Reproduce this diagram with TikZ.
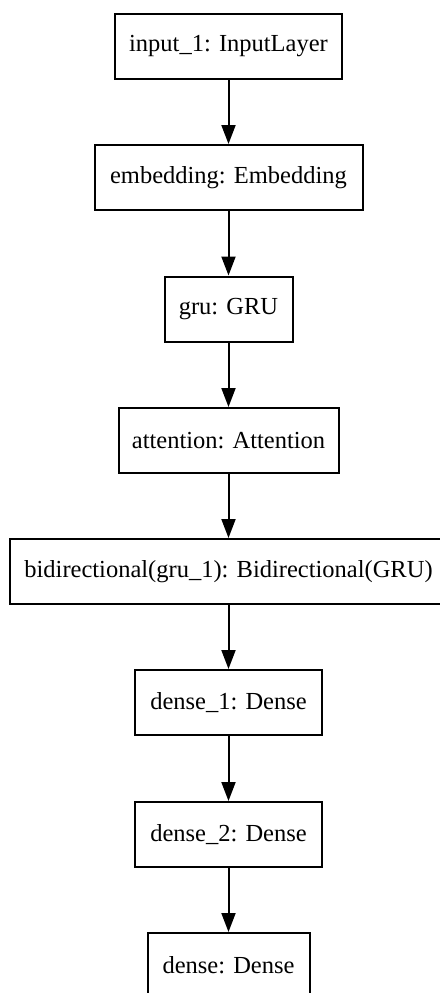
\documentclass[tikz,border=0pt]{standalone}
\usepackage{fontspec}
\setmainfont{Liberation Serif}
\usetikzlibrary{arrows.meta}
\begin{document}
\begin{tikzpicture}[x=1pt,y=1pt,
  layer/.style={draw, line width=2pt, rectangle, minimum height=65pt,
    inner sep=0pt, font=\fontsize{24.5}{28}\selectfont},
  flow/.style={line width=2pt, -{Triangle[length=19pt,width=14pt]}}]
  \useasboundingbox (0,0) rectangle (439,-993);
  \node[layer, minimum width=227pt] (in)  at (228.5,-46.5)  {input\_1: InputLayer};
  \node[layer, minimum width=268pt] (emb) at (228.5,-177.5) {embedding: Embedding};
  \node[layer, minimum width=128pt] (gru) at (228.5,-309)   {gru: GRU};
  \node[layer, minimum width=220pt] (att) at (228.5,-440.5) {attention: Attention};
  \node[layer, minimum width=437pt] (bi)  at (228.5,-571.5) {bidirectional(gru\_1): Bidirectional(GRU)};
  \node[layer, minimum width=187pt] (d1)  at (228.5,-702.5) {dense\_1: Dense};
  \node[layer, minimum width=187pt] (d2)  at (228.5,-834.5) {dense\_2: Dense};
  \node[layer, minimum width=162pt] (d)   at (228.5,-965.5) {dense: Dense};
  \draw[flow] (in) -- (emb);
  \draw[flow] (emb) -- (gru);
  \draw[flow] (gru) -- (att);
  \draw[flow] (att) -- (bi);
  \draw[flow] (bi) -- (d1);
  \draw[flow] (d1) -- (d2);
  \draw[flow] (d2) -- (d);
\end{tikzpicture}
\end{document}
